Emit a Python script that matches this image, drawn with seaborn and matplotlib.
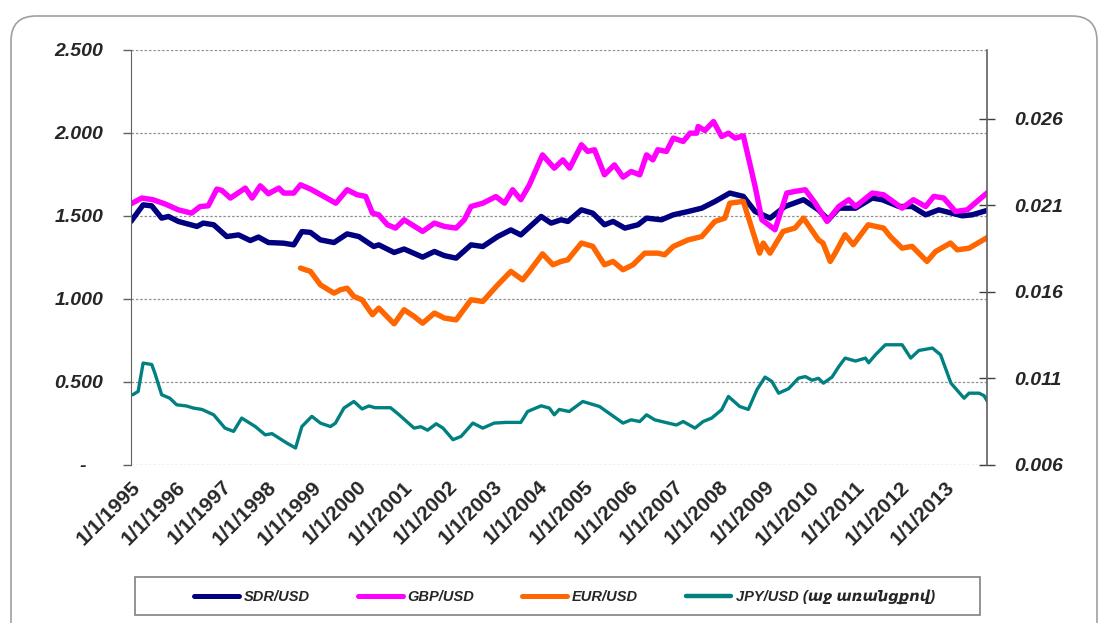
import pandas as pd
import seaborn as sns
import matplotlib.pyplot as plt
from matplotlib.patches import FancyBboxPatch, Rectangle
from matplotlib.lines import Line2D

# values (x in decimal years)
sdr_t = [1995.0, 1995.27, 1995.46, 1995.68, 1995.83, 1996.05, 1996.46, 1996.6, 1996.83, 1997.12,
         1997.38, 1997.64, 1997.82, 1998.04, 1998.38, 1998.6, 1998.78, 1998.97, 1999.19, 1999.49,
         1999.78, 2000.04, 2000.37, 2000.48, 2000.82, 2001.04, 2001.45, 2001.71, 2001.93, 2002.19,
         2002.52, 2002.78, 2003.11, 2003.4, 2003.62, 2004.07, 2004.29, 2004.51, 2004.66, 2004.96,
         2005.21, 2005.47, 2005.66, 2005.92, 2006.21, 2006.4, 2006.73, 2006.99, 2007.32, 2007.62,
         2007.91, 2008.24, 2008.54, 2008.8, 2009.13, 2009.46, 2009.87, 2010.2, 2010.42, 2010.65,
         2011.02, 2011.39, 2011.61, 2011.98, 2012.27, 2012.57, 2012.86, 2013.38, 2013.6, 2013.97]
sdr_v = [1.466, 1.566, 1.56, 1.486, 1.496, 1.466, 1.436, 1.456, 1.446, 1.375,
         1.385, 1.351, 1.372, 1.339, 1.335, 1.325, 1.405, 1.40, 1.355, 1.339,
         1.391, 1.375, 1.315, 1.325, 1.279, 1.30, 1.251, 1.285, 1.26, 1.245,
         1.325, 1.315, 1.375, 1.415, 1.385, 1.496, 1.456, 1.476, 1.466, 1.536,
         1.516, 1.446, 1.466, 1.426, 1.446, 1.486, 1.476, 1.506, 1.526, 1.546,
         1.586, 1.637, 1.617, 1.526, 1.486, 1.556, 1.597, 1.536, 1.476, 1.546,
         1.546, 1.607, 1.597, 1.556, 1.556, 1.506, 1.536, 1.50, 1.506, 1.536]

gbp_t = [1995.0, 1995.24, 1995.49, 1995.75, 1996.05, 1996.34, 1996.53, 1996.71, 1996.9, 1997.01,
         1997.2, 1997.53, 1997.68, 1997.86, 1998.04, 1998.27, 1998.38, 1998.6, 1998.75, 1998.97,
         1999.27, 1999.53, 1999.78, 2000.0, 2000.19, 2000.34, 2000.48, 2000.67, 2000.85, 2001.04,
         2001.45, 2001.71, 2001.93, 2002.19, 2002.37, 2002.52, 2002.78, 2003.07, 2003.26, 2003.44,
         2003.62, 2003.81, 2004.1, 2004.36, 2004.55, 2004.7, 2004.96, 2005.1, 2005.25, 2005.47,
         2005.69, 2005.88, 2006.06, 2006.25, 2006.4, 2006.54, 2006.65, 2006.84, 2006.99, 2007.21,
         2007.36, 2007.51, 2007.54, 2007.69, 2007.88, 2008.06, 2008.21, 2008.36, 2008.54, 2008.8,
         2008.95, 2009.24, 2009.5, 2009.68, 2009.91, 2010.13, 2010.39, 2010.65, 2010.87, 2011.02,
         2011.39, 2011.64, 2011.9, 2012.05, 2012.3, 2012.57, 2012.75, 2012.97, 2013.23, 2013.49,
         2013.75, 2013.97]
gbp_v = [1.572, 1.607, 1.597, 1.572, 1.536, 1.516, 1.556, 1.56, 1.661, 1.653,
         1.607, 1.667, 1.607, 1.681, 1.633, 1.667, 1.637, 1.637, 1.687, 1.661,
         1.616, 1.576, 1.657, 1.627, 1.617, 1.516, 1.506, 1.446, 1.426, 1.476,
         1.406, 1.456, 1.436, 1.426, 1.476, 1.556, 1.576, 1.616, 1.576, 1.657,
         1.597, 1.687, 1.867, 1.787, 1.837, 1.787, 1.928, 1.888, 1.898, 1.747,
         1.807, 1.733, 1.767, 1.747, 1.867, 1.837, 1.898, 1.888, 1.968, 1.948,
         1.998, 1.998, 2.038, 2.014, 2.068, 1.978, 1.998, 1.968, 1.982, 1.677,
         1.476, 1.416, 1.637, 1.647, 1.657, 1.576, 1.466, 1.556, 1.597, 1.556,
         1.637, 1.627, 1.576, 1.546, 1.597, 1.556, 1.617, 1.607, 1.526, 1.536,
         1.597, 1.647]

eur_t = [1998.75, 1998.97, 1999.19, 1999.49, 1999.63, 1999.78, 1999.93, 2000.11, 2000.34, 2000.48,
         2000.82, 2001.04, 2001.26, 2001.45, 2001.71, 2001.93, 2002.19, 2002.52, 2002.78, 2003.11,
         2003.4, 2003.66, 2003.81, 2004.1, 2004.33, 2004.51, 2004.66, 2004.96, 2005.21, 2005.47,
         2005.66, 2005.88, 2006.1, 2006.36, 2006.65, 2006.8, 2006.99, 2007.32, 2007.62, 2007.91,
         2008.13, 2008.24, 2008.54, 2008.76, 2008.9, 2008.98, 2009.13, 2009.42, 2009.68, 2009.87,
         2010.2, 2010.3, 2010.46, 2010.57, 2010.79, 2010.97, 2011.3, 2011.64, 2011.79, 2012.05,
         2012.27, 2012.6, 2012.79, 2013.12, 2013.27, 2013.53, 2013.97]
eur_v = [1.185, 1.165, 1.084, 1.034, 1.054, 1.064, 1.014, 0.994, 0.904, 0.944,
         0.849, 0.934, 0.894, 0.853, 0.914, 0.884, 0.873, 0.994, 0.984, 1.084,
         1.165, 1.114, 1.165, 1.271, 1.205, 1.225, 1.235, 1.336, 1.316, 1.205,
         1.225, 1.175, 1.205, 1.275, 1.275, 1.265, 1.315, 1.355, 1.375, 1.466,
         1.486, 1.576, 1.587, 1.396, 1.275, 1.336, 1.275, 1.406, 1.426, 1.486,
         1.355, 1.336, 1.225, 1.275, 1.386, 1.326, 1.446, 1.426, 1.375, 1.305,
         1.316, 1.225, 1.285, 1.336, 1.295, 1.305, 1.375]

jpy_t = [1995.04, 1995.16, 1995.27, 1995.46, 1995.53, 1995.68, 1995.86, 1996.01, 1996.23, 1996.38,
         1996.57, 1996.83, 1997.08, 1997.27, 1997.45, 1997.75, 1997.97, 1998.12, 1998.45, 1998.64,
         1998.78, 1999.0, 1999.19, 1999.41, 1999.52, 1999.71, 1999.93, 2000.11, 2000.26, 2000.4,
         2000.74, 2000.93, 2001.26, 2001.41, 2001.56, 2001.75, 2001.9, 2002.12, 2002.3, 2002.56,
         2002.78, 2003.03, 2003.29, 2003.62, 2003.77, 2004.07, 2004.25, 2004.36, 2004.47, 2004.69,
         2004.99, 2005.36, 2005.62, 2005.88, 2006.06, 2006.25, 2006.4, 2006.58, 2006.88, 2007.06,
         2007.21, 2007.47, 2007.65, 2007.84, 2008.06, 2008.21, 2008.46, 2008.65, 2008.84, 2009.02,
         2009.17, 2009.32, 2009.54, 2009.76, 2009.91, 2010.06, 2010.2, 2010.31, 2010.5, 2010.65,
         2010.79, 2011.02, 2011.24, 2011.31, 2011.46, 2011.68, 2011.87, 2012.05, 2012.24, 2012.42,
         2012.72, 2012.9, 2013.13, 2013.42, 2013.53, 2013.75, 2013.86, 2013.98]
jpy_v = [0.01005, 0.01024, 0.01188, 0.0118, 0.0113, 0.01005, 0.00985, 0.00947, 0.0094, 0.00928,
         0.0092, 0.00889, 0.00812, 0.00793, 0.0087, 0.00821, 0.00773, 0.0078, 0.00725, 0.00697,
         0.00821, 0.0088, 0.00841, 0.00821, 0.0084, 0.00928, 0.00966, 0.00923, 0.0094, 0.0093,
         0.0093, 0.00889, 0.00812, 0.0082, 0.0080, 0.00837, 0.00812, 0.00745, 0.00764, 0.00841,
         0.00812, 0.00841, 0.00845, 0.00845, 0.00908, 0.00941, 0.00928, 0.00889, 0.0092, 0.00908,
         0.00966, 0.00937, 0.00889, 0.00841, 0.0086, 0.0085, 0.00889, 0.0086, 0.00841, 0.0083,
         0.0085, 0.00812, 0.0085, 0.0087, 0.00918, 0.00995, 0.00937, 0.0092, 0.01034, 0.01107,
         0.01082, 0.01014, 0.0104, 0.01101, 0.0111, 0.01089, 0.0110, 0.01072, 0.01107, 0.01168,
         0.01217, 0.0120, 0.01217, 0.0119, 0.01236, 0.01294, 0.01294, 0.01294, 0.01217, 0.01261,
         0.01275, 0.01236, 0.01072, 0.00985, 0.01014, 0.01014, 0.0100, 0.00947]

years = list(range(1995, 2014))
year_labels = [f"1/1/{y}" for y in years]
left_ticks = [0, 0.5, 1.0, 1.5, 2.0, 2.5]
left_labels = ["-   ", "0.500", "1.000", "1.500", "2.000", "2.500"]
right_ticks = [0.006, 0.011, 0.016, 0.021, 0.026]
right_labels = ["0.006", "0.011", "0.016", "0.021", "0.026"]
names = ["SDR/USD", "GBP/USD", "EUR/USD", "JPY/USD (աջ առանցքով)"]
colors = ["#000080", "#FF00FF", "#FF6600", "#008080"]

sns.set_style("white")
plt.rcParams["font.family"] = ["Liberation Sans", "DejaVu Sans"]

fig = plt.figure(figsize=(11, 6.23), dpi=100)
fig.patches.append(FancyBboxPatch((0.11, -0.4), 10.86, 6.47, boxstyle="round,pad=0,rounding_size=0.25",
                                  transform=fig.dpi_scale_trans, fc="none", ec="#a0a0a0", lw=1.2))

ax = fig.add_axes([0.119, 0.254, 0.778, 0.666])
ax2 = ax.twinx()

left = [(sdr_t, sdr_v), (gbp_t, gbp_v), (eur_t, eur_v)]
for (t, v), c in zip(left, colors[:3]):
    sns.lineplot(x=t, y=v, ax=ax, color=c, lw=3.9, solid_joinstyle="round", solid_capstyle="round")
sns.lineplot(x=jpy_t, y=jpy_v, ax=ax2, color=colors[3], lw=2.4, solid_joinstyle="round")

ax.set_xlim(1995.0, 2013.92)
ax.set_ylim(0, 2.5)
ax2.set_ylim(0.006, 0.030)

ax.set_yticks(left_ticks)
ax.set_yticklabels(left_labels, fontsize=14, fontweight="bold", fontstyle="italic")
ax.tick_params(axis="y", direction="out", length=6, width=1, color="#606060", pad=14)
ax2.set_yticks(right_ticks)
ax2.set_yticklabels(right_labels, fontsize=14, fontweight="bold", fontstyle="italic")
ax2.tick_params(axis="y", direction="inout", length=11, width=1, color="#404040", pad=14)

ax.set_xticks(years)
ax.set_xticklabels(year_labels, rotation=45, ha="right", va="top", rotation_mode="anchor",
                   fontsize=15, fontweight="bold")
ax.tick_params(axis="x", length=0, pad=9)

ax.yaxis.grid(True, linestyle=(0, (2, 1.5)), color="#909090", lw=0.9)
ax.xaxis.grid(False)
for a in (ax, ax2):
    a.spines["top"].set_visible(False)
    a.spines["bottom"].set_visible(False)
ax.spines["left"].set_color("#606060")
ax.spines["right"].set_visible(False)
ax2.spines["left"].set_visible(False)
ax2.spines["right"].set_color("#606060")
ax2.spines["right"].set_linewidth(1.2)
ax.set_xlabel("")
ax.set_ylabel("")
ax2.set_ylabel("")

# legend box
fig.patches.append(Rectangle((135 / 1100, 1 - 615 / 623), 845 / 1100, 38 / 623,
                             transform=fig.transFigure, fc="white", ec="#808080", lw=1.2))
handles = [Line2D([], [], color=c, lw=3.6 if i < 3 else 3.2) for i, c in enumerate(colors)]
fig.legend(handles, names, loc="center", bbox_to_anchor=(0.513, 0.042), ncol=4, frameon=False,
           handlelength=3.1, handletextpad=0.3, columnspacing=3.3,
           prop={"size": 10.5, "weight": "bold", "style": "italic"})

fig.savefig("out.png", dpi=100)
